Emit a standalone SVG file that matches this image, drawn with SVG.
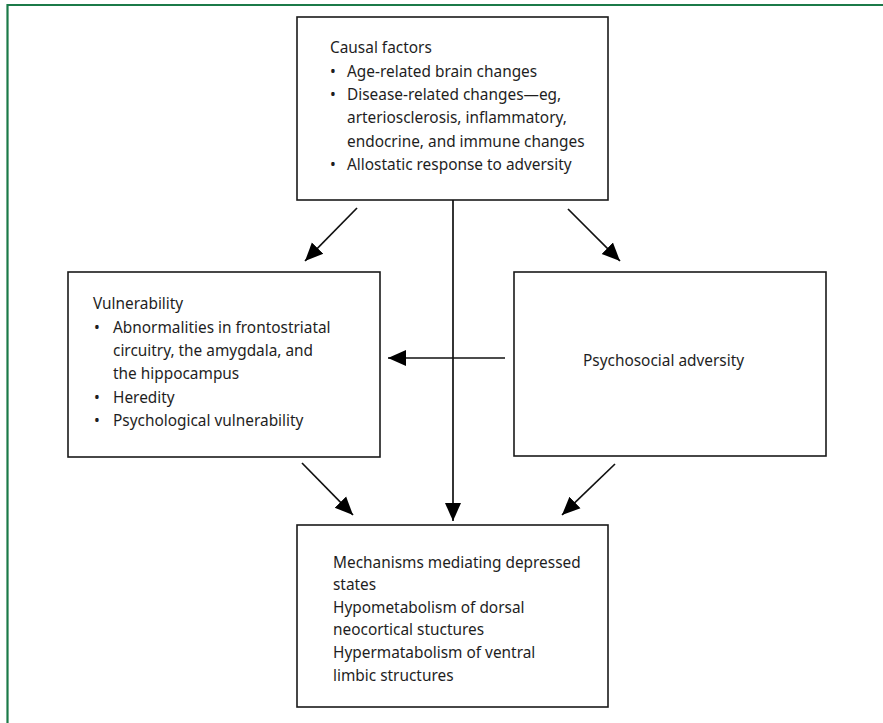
<svg xmlns="http://www.w3.org/2000/svg" width="883" height="723" viewBox="0 0 883 723">
<defs>
<style>
.box{fill:#fff;stroke:#1a1a1a;stroke-width:1.6}
.t{font-family:"Noto Sans","Liberation Sans",sans-serif;font-size:15.4px;fill:#1e1e1e}
.c{stroke:#111;stroke-width:1.7;fill:none}
.frame{stroke:#1b7a48;stroke-width:2.2;fill:none}
</style>
<marker id="ah" markerUnits="userSpaceOnUse" markerWidth="20" markerHeight="20" viewBox="0 0 20 20" refX="18" refY="10" orient="auto">
<path d="M0,2 L18,10 L0,18 z" fill="#000"/>
</marker>
</defs>
<rect width="883" height="723" fill="#fff"/>
<path class="frame" d="M7.5,723 V5 H883"/>
<g id="causal">
<rect class="box" x="297" y="17" width="311" height="183"/>
<text class="t" x="330" y="53">Causal factors</text>
<text class="t" x="330" y="77">•</text><text class="t" x="347" y="77">Age-related brain changes</text>
<text class="t" x="330" y="100">•</text><text class="t" x="347" y="100">Disease-related changes—eg,</text>
<text class="t" x="347" y="123">arteriosclerosis, inflammatory,</text>
<text class="t" x="347" y="147">endocrine, and immune changes</text>
<text class="t" x="330" y="170">•</text><text class="t" x="347" y="170">Allostatic response to adversity</text>
</g>
<g id="vulnerability">
<rect class="box" x="68" y="272" width="312" height="185"/>
<text class="t" x="93" y="309">Vulnerability</text>
<text class="t" x="94" y="333">•</text><text class="t" x="113" y="333">Abnormalities in frontostriatal</text>
<text class="t" x="113" y="356">circuitry, the amygdala, and</text>
<text class="t" x="113" y="379">the hippocampus</text>
<text class="t" x="94" y="403">•</text><text class="t" x="113" y="403">Heredity</text>
<text class="t" x="94" y="426">•</text><text class="t" x="113" y="426">Psychological vulnerability</text>
</g>
<g id="adversity">
<rect class="box" x="514" y="272" width="312" height="184"/>
<text class="t" x="583" y="366">Psychosocial adversity</text>
</g>
<g id="mechanisms">
<rect class="box" x="297" y="525" width="311" height="182"/>
<text class="t" x="333" y="568">Mechanisms mediating depressed</text>
<text class="t" x="333" y="590">states</text>
<text class="t" x="333" y="613">Hypometabolism of dorsal</text>
<text class="t" x="333" y="635">neocortical stuctures</text>
<text class="t" x="333" y="658">Hypermatabolism of ventral</text>
<text class="t" x="333" y="681">limbic structures</text>
</g>
<g id="connectors">
<line class="c" x1="357" y1="208" x2="305" y2="261" marker-end="url(#ah)"/>
<line class="c" x1="568" y1="209" x2="620" y2="261" marker-end="url(#ah)"/>
<line class="c" x1="453" y1="200" x2="453" y2="521" marker-end="url(#ah)"/>
<line class="c" x1="505" y1="358" x2="388" y2="358" marker-end="url(#ah)"/>
<line class="c" x1="302" y1="463" x2="353" y2="515" marker-end="url(#ah)"/>
<line class="c" x1="615" y1="464" x2="562" y2="515" marker-end="url(#ah)"/>
</g>
</svg>
